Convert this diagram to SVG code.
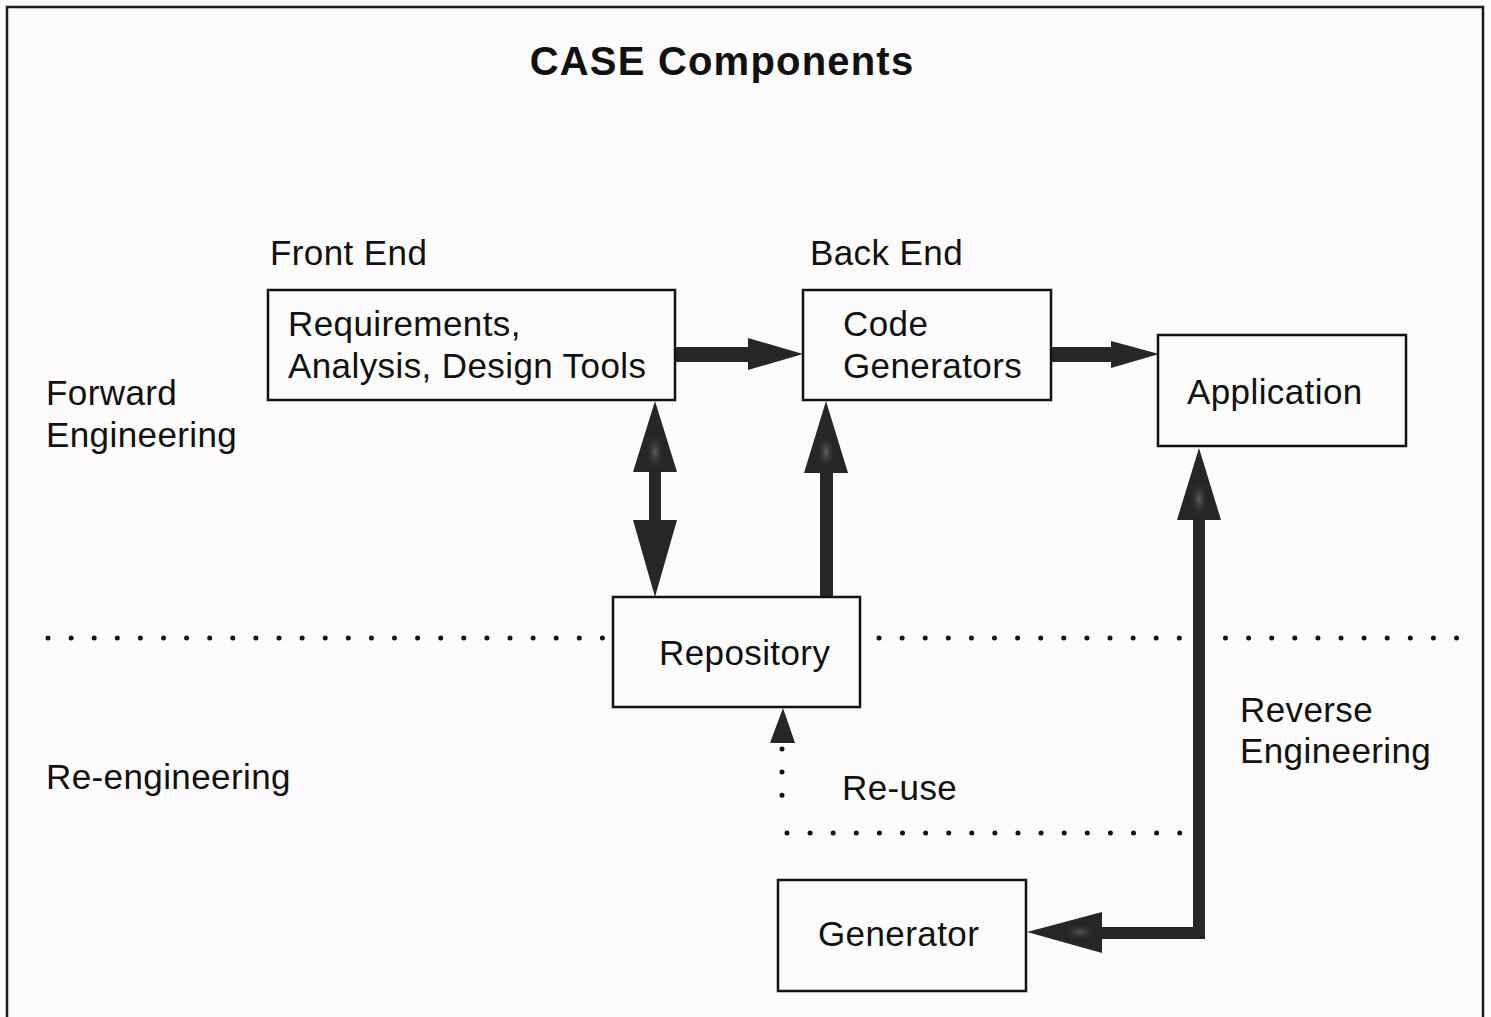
<svg xmlns="http://www.w3.org/2000/svg" width="1491" height="1017" viewBox="0 0 1491 1017">
  <style>
    .txt { font-family: "Liberation Sans", Arial, sans-serif; font-size: 35px; letter-spacing: 0.4px; fill: #111; }
    .title { font-family: "Liberation Sans", Arial, sans-serif; font-size: 40px; font-weight: bold; letter-spacing: 1.2px; fill: #111; }
    .box { fill: #fdfcfc; stroke: #111; stroke-width: 2.5; }
    .arrow { fill: #262626; }
    .dots { fill: none; stroke: #111; stroke-width: 5; stroke-linecap: round; stroke-dasharray: 0 23.1; }
  </style>
  <defs>
    <radialGradient id="headShade" cx="0.5" cy="0.5" r="0.5">
      <stop offset="0" stop-color="#707070" stop-opacity="1"/>
      <stop offset="1" stop-color="#262626" stop-opacity="0"/>
    </radialGradient>
  </defs>

  <!-- page -->
  <rect x="0" y="0" width="1491" height="1017" fill="#fdfbfb"/>
  <path d="M7,1017 V7 H1483 V1017" fill="none" stroke="#1a1a1a" stroke-width="2.5"/>

  <text class="title" x="722" y="75" text-anchor="middle">CASE Components</text>

  <!-- region labels -->
  <g id="labels">
    <text class="txt" x="270" y="265">Front End</text>
    <text class="txt" x="810" y="265">Back End</text>
    <text class="txt" x="46" y="405">Forward</text>
    <text class="txt" x="46" y="447">Engineering</text>
    <text class="txt" x="46" y="789">Re-engineering</text>
    <text class="txt" x="1240" y="722">Reverse</text>
    <text class="txt" x="1240" y="763">Engineering</text>
    <text class="txt" x="842" y="800">Re-use</text>
  </g>

  <!-- divider between forward and re-engineering -->
  <g id="divider">
    <line class="dots" x1="48" y1="638" x2="604" y2="638"/>
    <line class="dots" x1="879" y1="638" x2="1460" y2="638"/>
  </g>

  <g id="connectors">
    <!-- front end to code generators -->
    <polygon class="arrow" points="675,347 748,347 748,338 803,354 748,370 748,362 675,362"/>
    <!-- code generators to application -->
    <polygon class="arrow" points="1051,347 1111,347 1111,341 1159,354 1111,368 1111,362 1051,362"/>
    <!-- front end <-> repository -->
    <polygon class="arrow" points="655,401 677,472 661,472 661,520 677,520 655,597 633,520 649,520 649,472 633,472"/>
    <!-- repository to code generators -->
    <polygon class="arrow" points="826,401 848,473 833,473 833,597 820,597 820,473 804,473"/>
    <!-- application to generator (reverse engineering) -->
    <polygon class="arrow" points="1199,448 1221,520 1205,520 1205,939 1102,939 1102,953 1027,932 1102,912 1102,927 1193,927 1193,520 1177,520"/>
    <!-- shading in the arrowheads -->
    <ellipse cx="655" cy="452" rx="9" ry="18" fill="url(#headShade)" opacity="0.8"/>
    <ellipse cx="826" cy="452" rx="9" ry="18" fill="url(#headShade)" opacity="0.8"/>
    <ellipse cx="1199" cy="499" rx="9" ry="18" fill="url(#headShade)" opacity="0.8"/>
    <ellipse cx="1080" cy="932" rx="16" ry="8" fill="url(#headShade)" opacity="0.7"/>
    <!-- re-use path (dotted) -->
    <polygon class="arrow" points="783,708 795,743 770,743"/>
    <line class="dots" x1="782" y1="749" x2="782" y2="818"/>
    <line class="dots" x1="787" y1="833" x2="1185" y2="833"/>
  </g>

  <g id="node-frontend">
    <rect class="box" x="268" y="290" width="407" height="110"/>
    <text class="txt" x="288" y="336">Requirements,</text>
    <text class="txt" x="288" y="378">Analysis, Design Tools</text>
  </g>

  <g id="node-codegen">
    <rect class="box" x="803" y="290" width="248" height="110"/>
    <text class="txt" x="843" y="336">Code</text>
    <text class="txt" x="843" y="378">Generators</text>
  </g>

  <g id="node-application">
    <rect class="box" x="1158" y="335" width="248" height="111"/>
    <text class="txt" x="1187" y="404">Application</text>
  </g>

  <g id="node-repository">
    <rect class="box" x="613" y="597" width="247" height="110"/>
    <text class="txt" x="659" y="665">Repository</text>
  </g>

  <g id="node-generator">
    <rect class="box" x="778" y="880" width="248" height="111"/>
    <text class="txt" x="818" y="946">Generator</text>
  </g>
</svg>
